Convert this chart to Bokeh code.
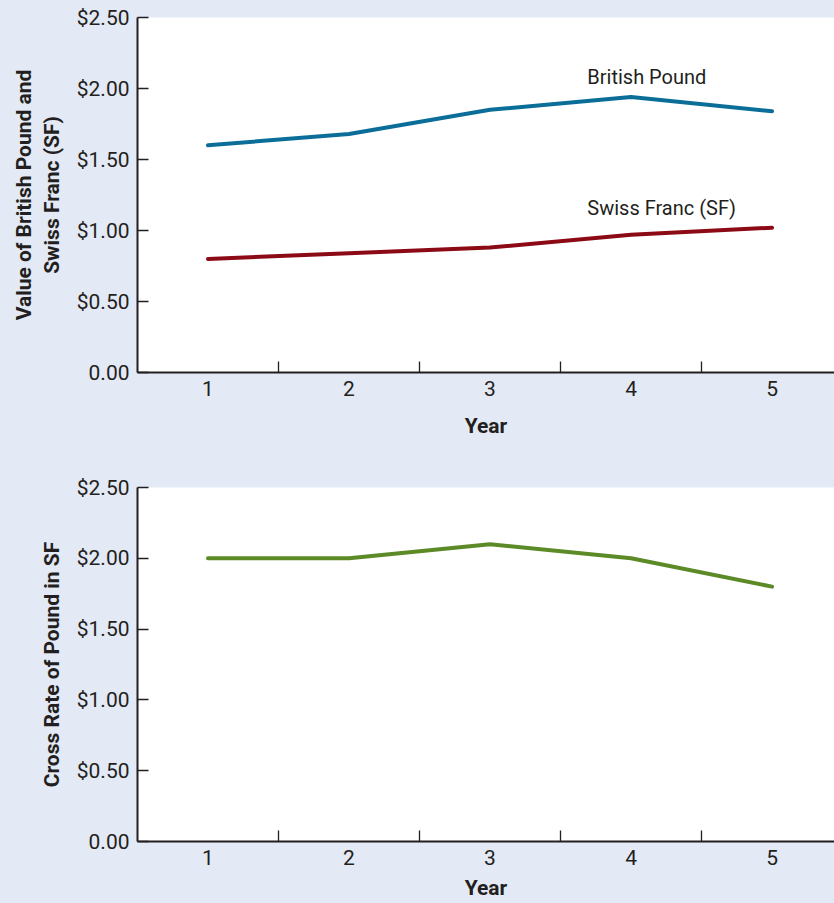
from bokeh.plotting import figure
from bokeh.layouts import column
from bokeh.models import FixedTicker, Label
from bokeh.embed import file_html
from bokeh.resources import INLINE

# Exchange-rate data by year
years = [1, 2, 3, 4, 5]
pound_usd = [1.60, 1.68, 1.85, 1.94, 1.84]
franc_usd = [0.80, 0.84, 0.88, 0.97, 1.02]
pound_in_sf = [2.00, 2.00, 2.10, 2.00, 1.80]

y_ticks = [0.0, 0.5, 1.0, 1.5, 2.0, 2.5]
y_tick_labels = {0.0: "0.00", 0.5: "$0.50", 1.0: "$1.00", 1.5: "$1.50", 2.0: "$2.00", 2.5: "$2.50"}
x_dividers = [1.5, 2.5, 3.5, 4.5]

BG = "#e3e9f5"
INK = "#231f20"
FONT = "Roboto"
BLUE = "#0b6e98"
RED = "#8c0a15"
GREEN = "#5b8a27"


def make_panel(height, top, bottom, ylabel, year_standoff):
    p = figure(width=834, height=height, x_range=(0.5, 5.443), y_range=(0, 2.5),
               output_backend="svg", toolbar_location=None,
               min_border_left=137, min_border_right=0,
               min_border_top=top, min_border_bottom=bottom)
    p.background_fill_color = "white"
    p.border_fill_color = BG
    p.outline_line_color = None
    p.grid.visible = False

    xa = p.xaxis[0]
    xa.ticker = FixedTicker(ticks=years, minor_ticks=x_dividers)
    xa.major_tick_in = 0
    xa.major_tick_out = 0
    xa.minor_tick_in = 11
    xa.minor_tick_out = 0
    xa.minor_tick_line_color = INK
    xa.minor_tick_line_width = 1.3
    xa.axis_label = "Year"
    xa.axis_label_text_font = FONT
    xa.axis_label_text_font_style = "bold"
    xa.axis_label_text_font_size = "21px"
    xa.axis_label_text_color = INK
    xa.axis_label_standoff = year_standoff
    xa.major_label_standoff = 8

    ya = p.yaxis[0]
    ya.ticker = FixedTicker(ticks=y_ticks, minor_ticks=[])
    ya.major_label_overrides = y_tick_labels
    ya.major_tick_in = 11
    ya.major_tick_out = 0
    ya.axis_label = ylabel
    ya.axis_label_text_font = FONT
    ya.axis_label_text_font_style = "bold"
    ya.axis_label_text_font_size = "21px"
    ya.axis_label_text_color = INK
    ya.axis_label_text_line_height = 1.15
    ya.axis_label_standoff = 10
    ya.major_label_standoff = 8

    for ax in (xa, ya):
        ax.axis_line_color = INK
        ax.axis_line_width = 2
        ax.major_tick_line_color = INK
        ax.major_tick_line_width = 1.5
        ax.major_label_text_font = FONT
        ax.major_label_text_font_size = "21px"
        ax.major_label_text_color = INK
    return p


top = make_panel(452, 17, 80, "Value of British Pound and\nSwiss Franc (SF)", 15)
top.line(years, pound_usd, line_color=BLUE, line_width=4, line_cap="round")
top.line(years, franc_usd, line_color=RED, line_width=4, line_cap="round")
for txt, yv in (("British Pound", 2.08), ("Swiss Franc (SF)", 1.16)):
    top.add_layout(Label(x=3.69, y=yv, text=txt, text_font=FONT, text_font_size="20px",
                         text_color=INK, text_baseline="middle", text_align="left"))

bottom = make_panel(451, 35, 62, "Cross Rate of Pound in SF", 8)
bottom.line(years, pound_in_sf, line_color=GREEN, line_width=4, line_cap="round")

layout = column(top, bottom, spacing=0, styles={"background-color": BG})

open("out.html", "w").write(file_html(layout, INLINE))
